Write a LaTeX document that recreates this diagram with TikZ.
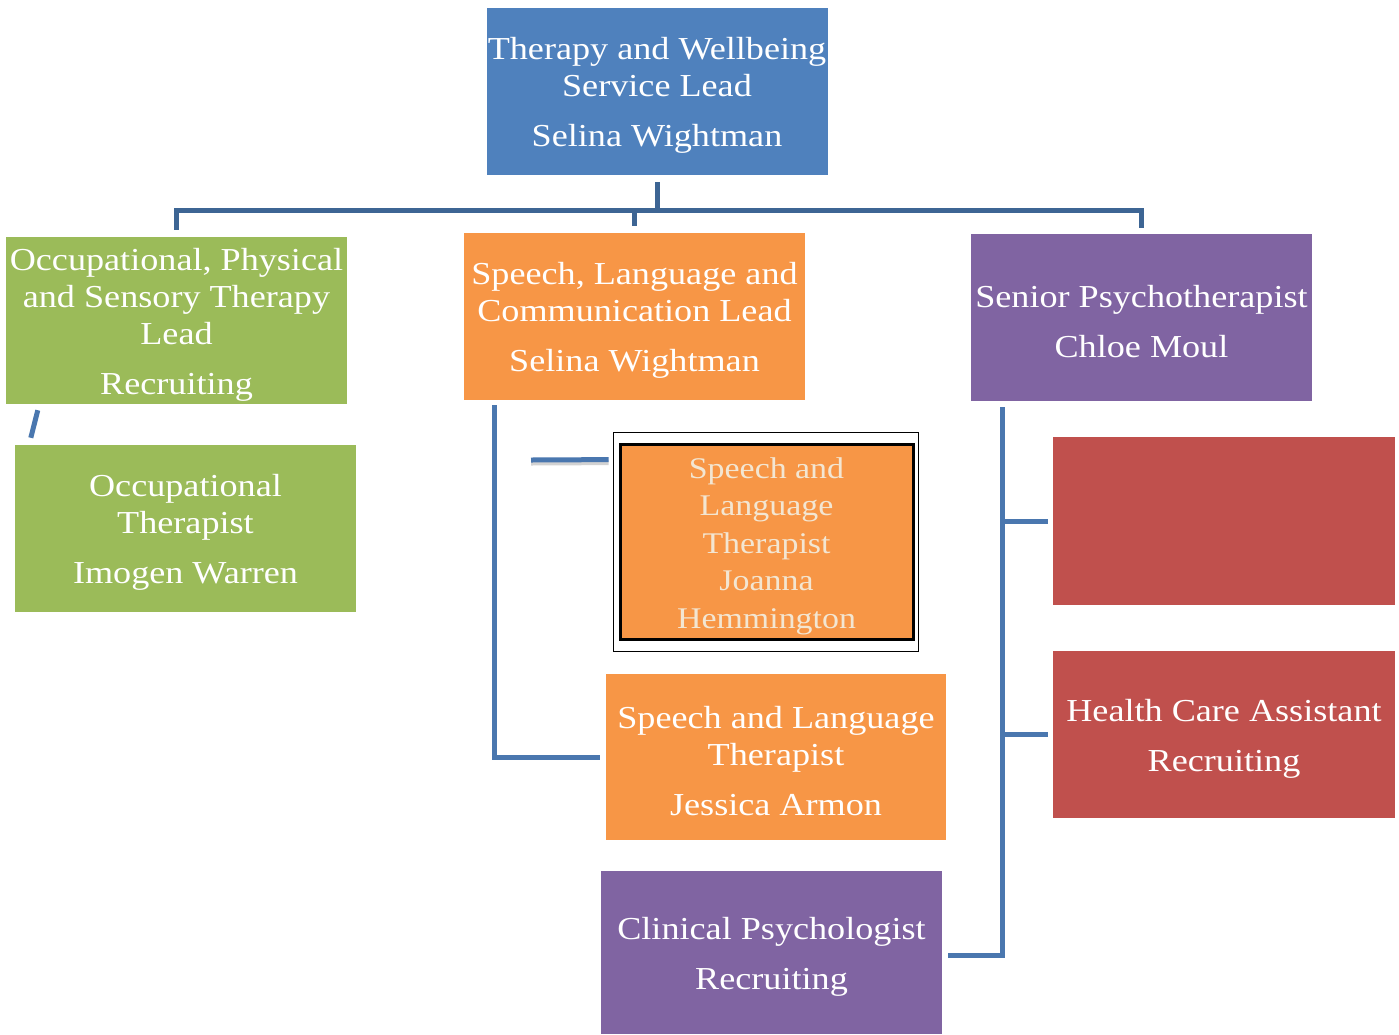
\documentclass[tikz,border=0pt]{standalone}
\usepackage{fontspec}
\setmainfont{Liberation Serif}[FakeStretch=1.13]
\definecolor{cblue}{HTML}{4F81BD}
\definecolor{cgreen}{HTML}{9BBB59}
\definecolor{corange}{HTML}{F79646}
\definecolor{cpurple}{HTML}{8064A2}
\definecolor{cred}{HTML}{C0504D}
\definecolor{lineA}{HTML}{3D6594}
\definecolor{lineB}{HTML}{4A77AF}
\definecolor{cream}{HTML}{F3E6D2}
\newcommand{\fstrut}{\rule{0pt}{30pt}}
\tikzset{
  box/.style={draw=none, fill=#1, text=white, inner sep=0pt, align=center,
    minimum width=341pt, minimum height=167pt,
    font=\fontsize{32}{37}\selectfont},
  connA/.style={draw=lineA, line width=5pt},
  connB/.style={draw=lineB, line width=5pt},
}
\begin{document}
\begin{tikzpicture}[x=1pt,y=-1pt]
\useasboundingbox (0,0) rectangle (1399,1034);
% boxes
\node[box=cblue] (top) at (657,91.5) {\fstrut Therapy and Wellbeing\\Service Lead\\[13pt]Selina Wightman};
\node[box=cgreen] (g1) at (176.5,320.5) {\fstrut Occupational, Physical\\and Sensory Therapy\\Lead\\[13pt]Recruiting};
\node[box=corange] (o1) at (634.5,316.5) {\fstrut Speech, Language and\\Communication Lead\\[13pt]Selina Wightman};
\node[box=cpurple] (p1) at (1141.5,317.5) {\fstrut Senior Psychotherapist\\[13pt]Chloe Moul};
\node[box=cgreen] (g2) at (185.5,528.5) {\fstrut Occupational\\Therapist\\[13pt]Imogen Warren};
\node[draw=black, line width=0.8pt, fill=white, inner sep=0pt, minimum width=305pt, minimum height=219pt] (jo) at (765.5,541.5) {};
\node[box=corange, draw=black, line width=3pt, minimum width=293pt, minimum height=195pt, text=cream, font=\fontsize{30}{37.5}\selectfont] (jn) at (766.5,541.5) {\fstrut Speech and\\Language\\Therapist\\Joanna\\Hemmington};
\node[box=corange, minimum width=340pt, minimum height=166pt] (o2) at (776,757) {\fstrut Speech and Language\\Therapist\\[13pt]Jessica Armon};
\node[box=cpurple, minimum height=163pt] (p2) at (771.5,952.5) {\fstrut Clinical Psychologist\\[13pt]Recruiting};
\node[box=cred, minimum width=342pt, minimum height=168pt] (r1) at (1224,521) {};
\node[box=cred, minimum width=342pt] (r2) at (1224,734.5) {\fstrut Health Care Assistant\\[13pt]Recruiting};
% top connectors
\coordinate (hub) at (657,210);
\draw[connA] ([yshift=-7pt]top.south) -- (hub);
\draw[connA] ([yshift=7pt]g1.north) |- (hub) -| ([yshift=6pt]p1.north);
\draw[connA] ([yshift=7pt]o1.north) -- (o1.north |- hub);
% green slash
\draw[connB] ([xshift=32pt,yshift=-6pt]g1.south west) -- ([xshift=16pt,yshift=7pt]g2.north west);
% orange column
\draw[connB] ([xshift=31pt,yshift=-5pt]o1.south west) |- ([xshift=-6pt]o2.west);
\coordinate (jfree) at (531,460);
\draw[draw=gray!35, line width=5pt] ([yshift=-3pt]jfree) -- ([xshift=-4pt,yshift=-31pt]jo.north west);
\draw[connB] (jfree) -- ([xshift=-4pt,yshift=-28pt]jo.north west);
% purple column
\draw[connB] ([xshift=32pt,yshift=-6pt]p1.south west) |- ([xshift=6pt,yshift=-2.5pt]p2.east);
\coordinate (vx) at (1003,0);
\draw[connB] (vx |- r1.west) -- ([xshift=-5pt]r1.west);
\draw[connB] (vx |- r2.west) -- ([xshift=-5pt]r2.west);
\end{tikzpicture}
\end{document}
